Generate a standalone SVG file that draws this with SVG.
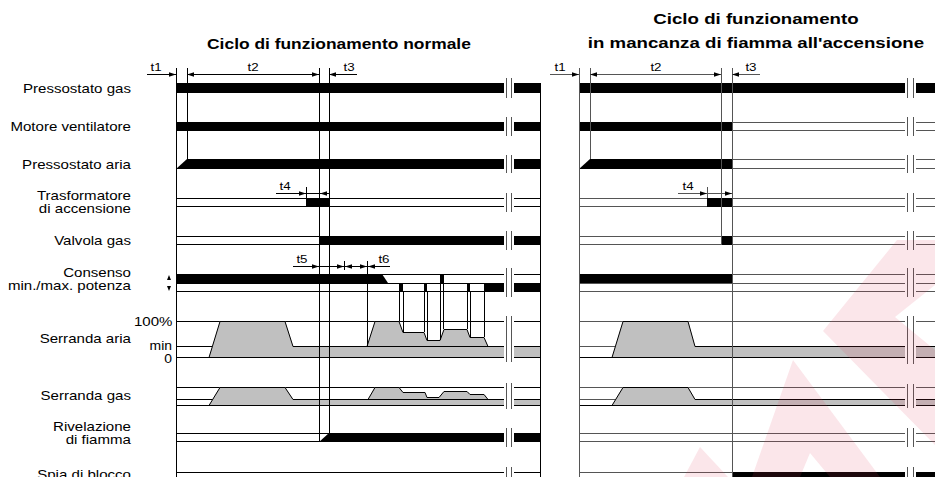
<svg xmlns="http://www.w3.org/2000/svg" width="935" height="477" viewBox="0 0 935 477">
<style>
.ln{stroke:#000;stroke-width:1;fill:none}
.lg{stroke:#555;stroke-width:1;fill:none}
.bk{fill:#000}
.gr{fill:#c0c0c0;stroke:none}
.wh{fill:#fff}
.wm{fill:#e0405a;opacity:0.13}
text{font-family:"Liberation Sans",Arial,Helvetica,sans-serif;fill:#000}
.lbl{font-size:13px}
.sm{font-size:12px}
.tl{font-size:11.5px}
.ttl{font-size:15px;font-weight:bold}
</style>
<defs>
<path id="ar" d="M0,0 L-7,-2.2 L-7,2.2 Z" fill="#000"/>
</defs>
<rect width="935" height="477" fill="#fff"/>

<g transform="scale(1.16 1)">
<g id="title-left" class="ttl" text-anchor="middle">
<text x="292.2" y="49">Ciclo di funzionamento normale</text>
</g>
<g id="labels" class="lbl" text-anchor="end">
<text x="112.9" y="93">Pressostato gas</text>
<text x="112.9" y="131">Motore ventilatore</text>
<text x="112.9" y="169">Pressostato aria</text>
<text x="112.9" y="200">Trasformatore</text>
<text x="112.9" y="213">di accensione</text>
<text x="112.9" y="245">Valvola gas</text>
<text x="112.9" y="277">Consenso</text>
<text x="112.9" y="290">min./max. potenza</text>
<text x="112.9" y="343">Serranda aria</text>
<text x="112.9" y="400">Serranda gas</text>
<text x="112.9" y="431">Rivelazione</text>
<text x="112.9" y="444">di fiamma</text>
<text x="112.9" y="479">Spia di blocco</text>
<text x="148.7" y="326">100%</text>
<text class="sm" x="148.3" y="350">min</text>
<text class="sm" x="148.3" y="363">0</text>
</g>
<g id="tlabels" class="tl" text-anchor="middle">
<text x="134.5" y="71">t1</text>
<text x="218.1" y="71">t2</text>
<text x="300.9" y="71">t3</text>
<text x="245.7" y="190">t4</text>
<text x="260.3" y="263">t5</text>
<text x="331" y="263">t6</text>
<text x="482.8" y="71">t1</text>
<text x="565.5" y="71">t2</text>
<text x="647.4" y="71">t3</text>
<text x="593.1" y="190">t4</text>
</g>
</g>
<g id="title-right" class="ttl" text-anchor="middle" transform="scale(1.245 1)">
<text x="607.2" y="24">Ciclo di funzionamento</text>
<text x="607.2" y="48">in mancanza di fiamma all'accensione</text>
</g>
<path d="M167,280 L169,275 L171,280 Z M167,286 L171,286 L169,291 Z" fill="#000"/>

<g id="left">
<g class="ln">
<path d="M176,198.5H540M176,206.5H540"/>
<path d="M176,236.5H540M176,244.5H540"/>
<path d="M176,274.5H540M176,283.5H540M176,291.5H540"/>
<path d="M176,321.5H540M176,357.5H540M176,346.5H212"/>
<path d="M176,387.5H540M176,405.5H540M176,399.5H213"/>
<path d="M176,433.5H540M176,441.5H540"/>
<path d="M176,472.5H540"/>
</g>
<rect class="bk" x="176" y="83" width="364" height="10"/>
<rect class="bk" x="176" y="122" width="364" height="9"/>
<polygon class="bk" points="176,169 187,159 540,159 540,169"/>
<rect class="bk" x="306" y="198" width="23" height="9"/>
<rect class="bk" x="319" y="236" width="221" height="9"/>
<polygon class="bk" points="176,274 382,274 388,283 176,283"/>
<rect class="bk" x="399" y="283" width="4" height="9"/>
<rect class="bk" x="424" y="283" width="3" height="9"/>
<rect class="bk" x="440" y="274" width="4" height="9"/>
<rect class="bk" x="467" y="283" width="3" height="9"/>
<rect class="bk" x="484" y="283" width="56" height="9"/>
<polygon class="bk" points="319,442 329,433 540,433 540,442"/>
<polygon class="gr" points="209,357 220,321 285,321 293,346 540,346 540,357"/>
<polyline class="ln" points="209,357.5 220,321.5 285,321.5 293,346.5 540,346.5"/>
<polygon class="gr" points="367,346 375,321 399,321 403,332 424,332 427,340 440,340 444,329 467,329 470,337 484,337 488,346"/>
<polyline class="ln" points="367,346.5 375,321.5 399,321.5 403,332.5 424,332.5 427,340.5 440,340.5 444,329.5 467,329.5 470,337.5 484,337.5 488,346.5"/>
<polygon class="gr" points="209,405 220,387 285,387 293,399 540,399 540,405"/>
<polyline class="ln" points="209,405.5 220,387.5 285,387.5 293,399.5 540,399.5"/>
<polygon class="gr" points="368,399 375,387 399,387 403,392 425,392 427,397 439,397 444,391 467,391 470,394 484,394 488,399"/>
<polyline class="ln" points="368,399.5 375,387.5 399,387.5 403,392.5 425,392.5 427,397.5 439,397.5 444,391.5 467,391.5 470,394.5 484,394.5 488,399.5"/>
<path class="ln" d="M176,357.5H540M176,405.5H540"/>
<g class="ln">
<path d="M176.5,68V477M187.5,68V159M319.5,68V442M329.5,68V433M540.5,83V477"/>
<path d="M399.5,292V321M403.5,292V332M424.5,292V332M427.5,292V340M440.5,283V340M443.5,283V329M467.5,292V329M470.5,292V337M484.5,292V337"/>
<path d="M344.5,261V270M367.5,261V346M306.5,187V198"/>
</g>
<g class="wh">
<rect x="504" y="76" width="10" height="24"/>
<rect x="504" y="115" width="10" height="23"/>
<rect x="504" y="153" width="10" height="22"/>
<rect x="504" y="192" width="10" height="21"/>
<rect x="504" y="230" width="10" height="21"/>
<rect x="504" y="267" width="10" height="31"/>
<rect x="504" y="315" width="10" height="48"/>
<rect x="504" y="382" width="10" height="28"/>
<rect x="504" y="427" width="10" height="21"/>
<rect x="504" y="466" width="10" height="11"/>
</g>
<path class="lg" d="M506.5,78V98M511.5,78V98M506.5,117V136M511.5,117V136M506.5,155V173M511.5,155V173M506.5,193V212M511.5,193V212M506.5,231V250M511.5,231V250M506.5,268V297M511.5,268V297M506.5,316V362M511.5,316V362M506.5,383V409M511.5,383V409M506.5,428V447M511.5,428V447M506.5,467V477M511.5,467V477"/>
</g>

<g id="right">
<g class="lg">
<path d="M732,122.5H935M732,130.5H935"/>
<path d="M732,159.5H935M732,168.5H935"/>
<path d="M579,198.5H935M579,206.5H935"/>
<path d="M579,236.5H935M579,244.5H935"/>
<path d="M579,274.5H935M579,283.5H935M579,291.5H935"/>
<path d="M579,321.5H935M579,357.5H935M579,346.5H615"/>
<path d="M579,387.5H935M579,405.5H935M579,399.5H616"/>
<path d="M579,433.5H935M579,441.5H935"/>
<path d="M579,472.5H732"/>
</g>
<rect class="bk" x="579" y="83" width="356" height="10"/>
<rect class="bk" x="579" y="122" width="153" height="9"/>
<polygon class="bk" points="579,169 590,159 732,159 732,169"/>
<rect class="bk" x="707" y="198" width="25" height="9"/>
<rect class="bk" x="721" y="236" width="11" height="9"/>
<rect class="bk" x="579" y="274" width="153" height="9"/>
<rect class="bk" x="732" y="472" width="203" height="5"/>
<polygon class="gr" points="612,357 623,321 688,321 695,346 935,346 935,357"/>
<polyline class="ln" points="612,357.5 623,321.5 688,321.5 695,346.5 935,346.5"/>
<polygon class="gr" points="612,405 623,387 688,387 695,399 935,399 935,405"/>
<polyline class="ln" points="612,405.5 623,387.5 688,387.5 695,399.5 935,399.5"/>
<path class="ln" d="M579,357.5H935M579,405.5H935"/>
<g class="lg">
<path d="M579.5,68V477M590.5,68V159M721.5,68V245M732.5,68V477M707.5,187V198"/>
</g>
<g class="wh">
<rect x="905" y="76" width="11" height="24"/>
<rect x="905" y="115" width="11" height="23"/>
<rect x="905" y="153" width="11" height="22"/>
<rect x="905" y="192" width="11" height="21"/>
<rect x="905" y="230" width="11" height="21"/>
<rect x="905" y="267" width="11" height="31"/>
<rect x="905" y="315" width="11" height="49"/>
<rect x="905" y="382" width="11" height="28"/>
<rect x="905" y="427" width="11" height="21"/>
<rect x="905" y="466" width="11" height="11"/>
</g>
<path class="lg" d="M907.5,78V98M913.5,78V98M907.5,117V136M913.5,117V136M907.5,155V173M913.5,155V173M907.5,193V212M913.5,193V212M907.5,231V250M913.5,231V250M907.5,268V297M913.5,268V297M907.5,316V364M913.5,316V364M907.5,384V408M913.5,384V408M907.5,428V447M913.5,428V447M907.5,467V477M913.5,467V477"/>
</g>

<g id="dims">
<path class="ln" d="M147,74.5H176M187,74.5H319M329,74.5H357M276,193.5H329M293,266.5H390"/>
<path class="lg" d="M550,74.5H579M590,74.5H721M732,74.5H760M678,193.5H732"/>
<use href="#ar" transform="translate(176,74.5)"/>
<use href="#ar" transform="translate(187,74.5) scale(-1,1)"/>
<use href="#ar" transform="translate(319,74.5)"/>
<use href="#ar" transform="translate(329,74.5) scale(-1,1)"/>
<use href="#ar" transform="translate(306,193.5)"/>
<use href="#ar" transform="translate(320,193.5) scale(-1,1)"/>
<use href="#ar" transform="translate(319,266.5)"/>
<use href="#ar" transform="translate(344,266.5)"/>
<use href="#ar" transform="translate(345,266.5) scale(-1,1)"/>
<use href="#ar" transform="translate(367,266.5)"/>
<use href="#ar" transform="translate(368,266.5) scale(-1,1)"/>
<use href="#ar" transform="translate(579,74.5)"/>
<use href="#ar" transform="translate(590,74.5) scale(-1,1)"/>
<use href="#ar" transform="translate(721,74.5)"/>
<use href="#ar" transform="translate(732,74.5) scale(-1,1)"/>
<use href="#ar" transform="translate(707,193.5)"/>
<use href="#ar" transform="translate(732,193.5)"/>
</g>

<g id="watermark">
<polygon class="wm" points="897,240 935,240 935,285 895,317 935,350 935,445 823,331"/>
<polygon class="wm" points="793,360 880,477 830,477 810,453 800,477 752,477"/>
<polygon class="wm" points="700,447 728,477 684,477"/>
</g>
</svg>
